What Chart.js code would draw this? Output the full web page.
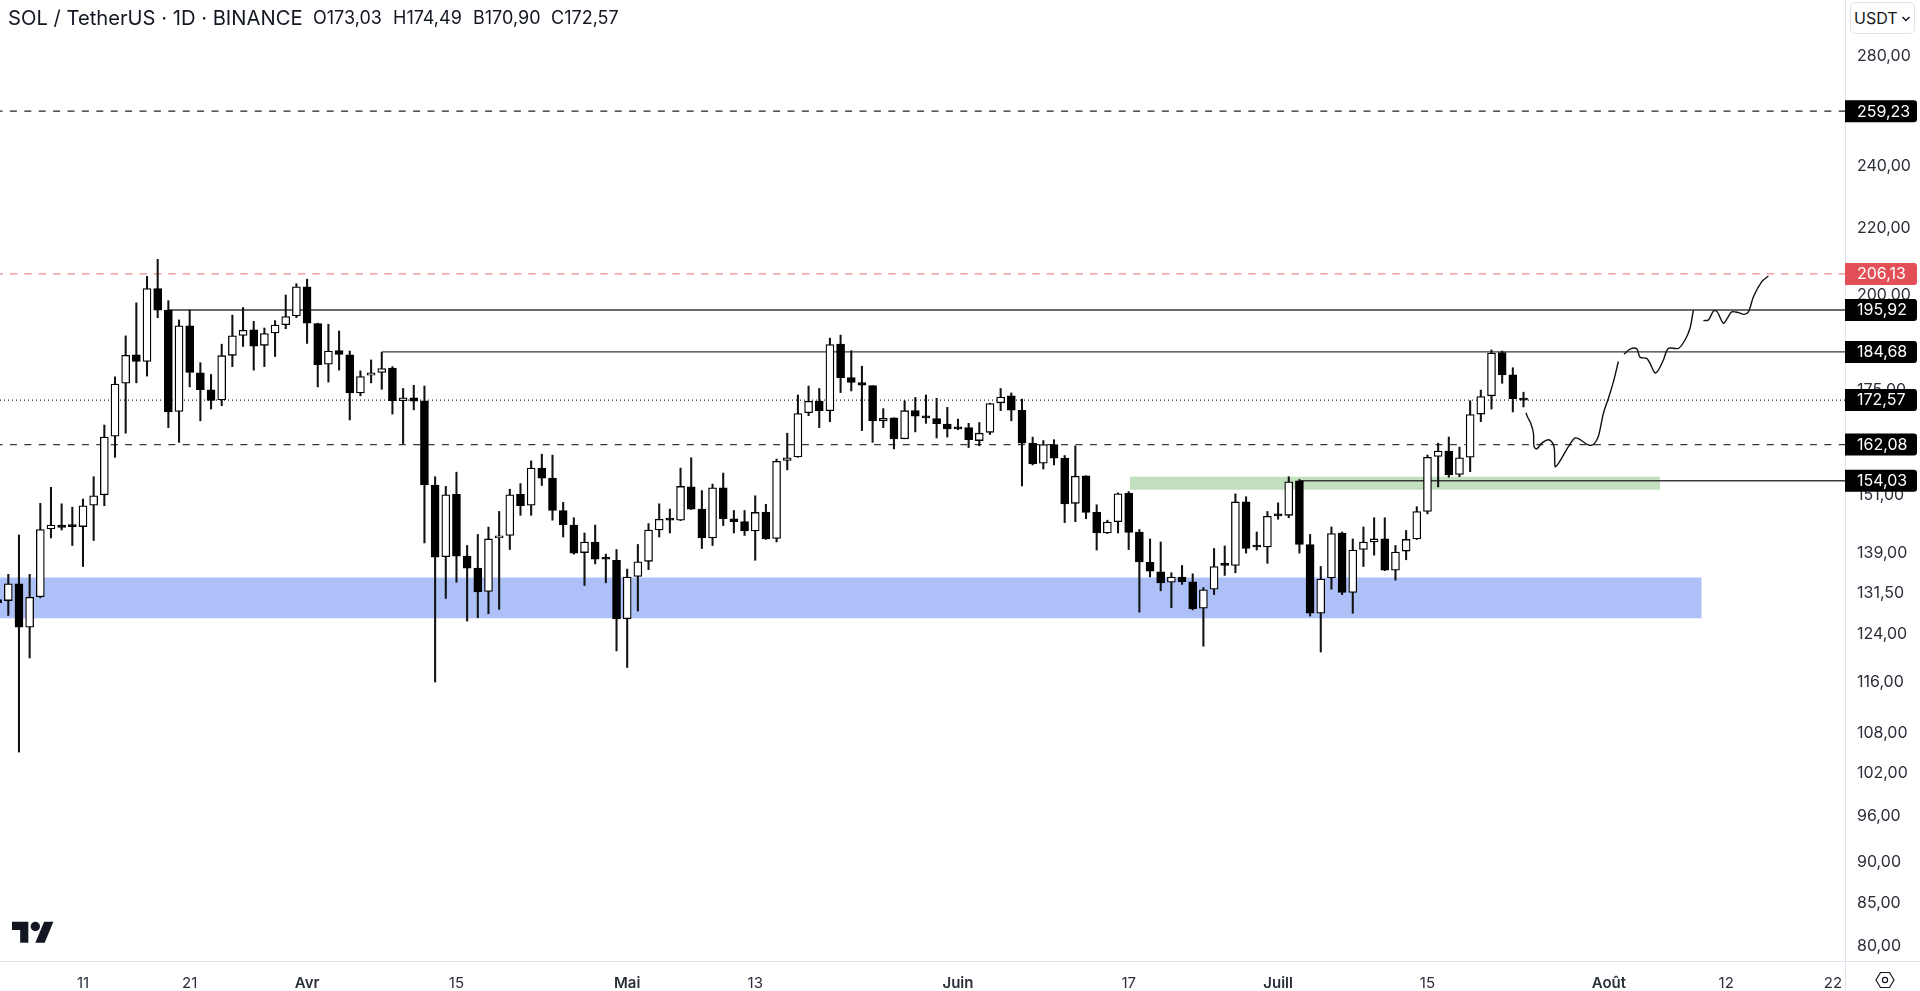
<!DOCTYPE html>
<html>
<head>
<meta charset="utf-8">
<title>SOL / TetherUS</title>
<script src="https://cdn.jsdelivr.net/npm/chart.js@4"></script>
<style>
  html, body { margin: 0; padding: 0; background: #fff; overflow: hidden; }
  body { width: 1920px; height: 991px; position: relative; font-family: Inter, "Noto Sans", sans-serif; color: #131722; }
  canvas { position: absolute; left: 0; top: 0; }
  .head { position: absolute; top: 7px; white-space: nowrap; line-height: 22px; }
  .title { font-size: 20.2px; left: 8px; }
  .ohlc { font-size: 18px; top: 7px; }
  #unit { position: absolute; left: 1850px; top: 2px; width: 65px; height: 32px; box-sizing: border-box; border: 1px solid #e0e3eb; border-radius: 5px; font-size: 16px; line-height: 30px; padding-left: 3px; background: #fff; }
  #unit svg { position: absolute; right: 3px; top: 12px; }
  #logo { position: absolute; left: 12px; top: 917px; }
  #gear { position: absolute; left: 1875px; top: 971px; }
</style>
</head>
<body>
<canvas id="solChart" width="1920" height="991"></canvas>
<div class="head title">SOL / TetherUS · 1D · BINANCE</div>
<div class="head ohlc" style="left:313px">O173,03</div>
<div class="head ohlc" style="left:393px">H174,49</div>
<div class="head ohlc" style="left:473px">B170,90</div>
<div class="head ohlc" style="left:551px">C172,57</div>
<div id="unit">USDT<svg width="10" height="8" viewBox="0 0 10 8"><path d="M1.5 2 L5 5.5 L8.5 2" fill="none" stroke="#131722" stroke-width="1.5"/></svg></div>
<svg id="logo" width="42" height="33" viewBox="0 0 36 28" fill="#131722"><path d="M14 22H7V11H0V4h14v18zM28 22h-8l7.5-18h8L28 22z"/><circle cx="20" cy="8" r="4"/></svg>
<svg id="gear" width="20" height="18" viewBox="0 0 20 18" fill="none" stroke="#131722" stroke-width="1.2"><path d="M5.5 1.5h9L19 9l-4.5 7.5h-9L1 9z"/><circle cx="10" cy="9" r="2.6"/></svg>
<script>
// Daily candles, the first one is 3 March. x axis = days after 4 March
const opens = [
  130.3,130.1,133.2,125.3,130.8,143.9,144.7,144.5,144.4,148.8,
  151.0,164.0,176.7,183.9,182.2,201.9,195.9,169.8,191.6,179.3,
  175.1,172.6,183.8,189.0,190.5,186.4,189.7,191.9,194.3,202.4,
  192.2,181.5,185.0,183.9,174.3,178.7,179.4,180.5,172.4,173.1,
  172.4,153.1,138.4,151.1,138.5,136.2,131.8,142.1,142.6,151.1,
  148.8,156.8,154.6,147.7,144.7,139.2,141.3,138.1,137.7,126.8,
  134.6,137.5,143.7,145.9,145.7,152.7,148.0,142.1,152.5,146.0,
  145.4,143.5,147.4,142.0,158.5,159.3,169.5,172.3,170.0,186.7,
  178.1,176.9,176.1,167.6,168.3,163.4,170.0,168.6,168.1,166.8,
  166.0,166.0,163.0,164.9,171.9,173.6,170.1,162.4,157.9,162.1,
  159.0,149.2,155.1,147.3,143.1,145.4,151.3,143.3,137.3,135.5,
  133.5,134.5,133.6,128.7,132.2,136.9,136.7,149.5,140.5,140.3,
  146.8,146.7,154.0,140.8,127.8,134.3,143.1,131.6,139.8,141.3,
  141.9,135.8,139.5,141.9,147.5,159.4,160.6,155.4,159.2,169.2,
  173.6,184.5,178.8,173.03
];
const highs = [
  130.7,135.0,142.7,135.0,149.2,152.6,149.1,148.4,150.1,154.9,
  166.6,178.3,188.9,197.9,205.4,210.4,198.5,193.2,195.9,181.9,
  178.9,186.7,194.5,196.6,192.8,191.0,193.0,200.1,203.3,204.6,
  192.3,192.0,190.2,184.9,179.8,182.6,184.6,180.9,175.4,176.2,
  176.0,154.9,152.8,155.9,140.6,142.8,144.3,147.5,152.2,153.4,
  158.4,159.9,159.7,149.4,146.2,143.1,144.7,138.9,139.8,136.0,
  140.8,145.0,149.1,148.0,156.8,159.1,151.9,153.3,155.7,147.7,
  147.7,150.8,149.0,158.8,164.7,173.8,176.0,175.4,188.3,189.1,
  185.0,181.0,176.1,170.5,168.3,172.4,173.2,173.8,173.0,170.8,
  168.0,167.0,167.2,171.8,175.4,174.3,172.8,163.8,163.0,163.2,
  159.6,161.8,155.1,148.9,145.7,151.4,151.7,143.8,141.9,141.3,
  135.3,136.7,135.1,132.5,140.0,140.5,151.2,150.6,143.3,147.5,
  149.3,154.9,154.3,142.8,136.5,144.3,143.3,141.9,144.3,146.2,
  146.2,140.6,143.6,148.5,159.7,162.4,163.8,161.5,172.4,175.0,
  185.2,184.9,180.6,174.49
];
const lows = [
  129.4,127.4,105.1,120.0,130.6,142.1,143.7,140.6,136.5,141.6,
  148.7,159.2,164.7,176.8,178.5,193.8,166.0,162.6,175.8,167.6,
  170.4,171.2,180.9,186.1,180.0,180.9,183.5,190.8,193.8,186.9,
  175.8,177.0,180.0,167.8,173.6,176.8,175.2,169.2,162.3,170.2,
  141.1,116.0,130.5,133.5,126.4,127.0,127.7,128.5,139.8,146.7,
  146.7,153.0,145.7,142.3,138.9,132.9,137.0,133.4,121.2,118.4,
  128.2,135.9,142.3,143.1,145.6,147.9,140.0,140.6,144.6,143.1,
  142.6,137.7,141.8,141.3,156.4,159.2,168.8,166.0,167.4,174.4,
  174.8,165.3,162.6,166.0,161.1,163.4,165.0,167.0,163.6,163.8,
  165.5,161.4,161.8,164.4,170.0,167.6,152.9,157.5,156.6,157.5,
  145.2,145.4,146.0,139.7,143.0,143.1,139.8,128.0,134.5,131.9,
  128.8,133.1,128.4,122.0,131.2,134.8,135.3,139.1,139.7,137.1,
  145.9,146.2,139.1,127.3,121.0,132.2,131.2,127.8,136.5,138.7,
  135.7,133.9,137.8,141.8,147.0,152.7,154.8,154.9,156.0,167.4,
  170.4,176.7,169.7,170.90
];
const closes = [
  129.7,133.2,125.3,130.7,143.8,144.7,144.2,144.4,148.7,150.8,
  163.8,176.5,183.8,182.2,201.9,195.9,169.7,191.6,179.4,175.1,
  172.5,183.7,188.9,190.4,186.2,189.5,191.8,194.1,202.4,192.3,
  181.4,184.9,184.0,174.3,178.4,179.3,180.4,172.4,173.1,172.3,
  153.1,138.3,151.0,138.5,136.2,131.7,141.9,142.5,151.0,148.7,
  156.8,154.6,147.7,144.8,139.1,141.3,137.9,137.9,126.8,134.5,
  137.4,143.7,145.9,145.7,152.8,148.0,142.1,152.5,146.0,145.4,
  143.5,147.3,141.9,158.3,159.1,169.3,172.3,170.0,186.6,178.1,
  176.9,176.2,167.6,168.2,163.4,170.0,168.7,168.3,166.9,165.7,
  165.7,163.2,164.7,171.7,173.3,170.1,162.4,157.7,162.1,159.0,
  149.1,155.0,147.3,143.1,145.3,151.2,143.2,137.4,135.6,133.4,
  134.5,133.6,128.6,132.1,136.5,136.7,149.5,140.0,140.3,146.5,
  146.6,153.8,140.8,127.8,134.1,143.0,131.6,139.7,141.3,141.9,
  135.8,139.3,141.8,147.5,159.2,160.6,155.3,159.1,169.1,173.4,
  184.4,178.8,172.9,172.57
];

// Price levels: value, first day of the line
const levelPrices = [259.23, 206.13, 195.92, 184.68, 172.57, 162.08, 154.03];
const levelStarts = [null, null, 15, 35, null, null, 121];

// Zones: low, high, first day, last day
const blueZone = [126.9, 134.4, null, 158.7];
const greenZone = [152.06, 154.9, 105.1, 154.8];

// Hand drawn projection, three strokes
const stroke1Days = [142.24,142.36,142.68,142.93,142.99,143.24,143.71,144.33,144.74,144.9,144.96,145.18,145.58,146.21,146.83,147.3,148.08,148.55,149.02,149.49,149.96,150.43,150.89];
const stroke1Prices = [169.5,168.6,167.0,164.7,161.6,161.1,162.4,163.2,162.4,160.9,157.1,157.5,159.0,161.6,163.6,163.2,162.0,162.1,164.0,169.4,173.0,177.1,182.2];
const stroke2Days = [151.42,151.99,152.61,152.92,153.55,153.86,154.33,154.64,155.11,155.58,156.52,157.14,157.61,157.92];
const stroke2Prices = [184.1,185.4,185.5,183.3,183.0,181.7,179.3,180.0,182.6,185.6,185.6,187.8,191.0,195.9];
const stroke3Days = [158.86,159.33,159.8,160.11,160.73,161.05,161.52,162.14,162.67,163.08,163.55,164.33,164.95];
const stroke3Prices = [193.0,193.2,195.6,195.6,192.3,193.4,195.4,195.2,194.7,195.4,199.6,203.9,205.5];

// Axes
const priceTicks = [280, 240, 220, 200, 175, 151, 139, 131.5, 124, 116, 108, 102, 96, 90, 85, 80];
const dayTicks = [7, 17, 28, 42, 58, 70, 89, 105, 119, 133, 150, 161, 171];
const dayLabels = ['11', '21', 'Avr', '15', 'Mai', '13', 'Juin', '17', 'Juill', '15', 'Août', '12', '22'];
const months = ['Avr', 'Mai', 'Juin', 'Juill', 'Août'];

const xMin = -0.778, xMax = 172.13;
const yMin = 78.3, yMax = 303.2;

const fmt = (v) => v.toFixed(2).replace('.', ',');
const days = opens.map((_, i) => i - 1);
const isUp = (i) => closes[i] > opens[i];

const hLine = (price, start, color, dash, width) => ({
  type: 'line',
  data: [{ x: start === null ? xMin : start, y: price }, { x: xMax, y: price }],
  borderColor: color,
  borderWidth: width,
  borderDash: dash,
  borderDashOffset: dash.length && dash[0] > 1 ? 4.5 : 0,
  pointRadius: 0,
  order: 5,
});

const levelStyles = [
  ['#222', [7, 7.4], 1.2],
  ['#f0888c', [7.5, 6.9], 1.4],
  ['#3a3a3a', [], 1.4],
  ['#3a3a3a', [], 1.4],
  ['#222', [1, 3], 1.2],
  ['#3a3a3a', [7, 7.4], 1.3],
  ['#3a3a3a', [], 1.4],
];

const zone = (z, color) => {
  const a = z[2] === null ? xMin : z[2];
  return [
    { type: 'line', data: [{ x: a, y: z[1] }, { x: z[3], y: z[1] }], borderWidth: 0, pointRadius: 0, backgroundColor: color, fill: '+1', order: 10 },
    { type: 'line', data: [{ x: a, y: z[0] }, { x: z[3], y: z[0] }], borderWidth: 0, pointRadius: 0, order: 10 },
  ];
};

const stroke = (xs, ys) => ({
  type: 'line',
  data: xs.map((x, i) => ({ x, y: ys[i] })),
  borderColor: '#111',
  borderWidth: 1.4,
  pointRadius: 0,
  tension: 0.3,
  order: 0,
});

// Price tags on the axis and the pane borders
const tagsPlugin = {
  id: 'tags',
  afterDraw(chart) {
    const { ctx, chartArea, scales } = chart;
    ctx.save();
    ctx.strokeStyle = '#e0e3eb';
    ctx.lineWidth = 1;
    ctx.beginPath();
    ctx.moveTo(chartArea.right + 0.5, 0);
    ctx.lineTo(chartArea.right + 0.5, chart.height);
    ctx.moveTo(0, chartArea.bottom + 0.5);
    ctx.lineTo(chart.width, chartArea.bottom + 0.5);
    ctx.stroke();
    ctx.font = '16px Inter';
    ctx.textBaseline = 'middle';
    ctx.textAlign = 'left';
    levelPrices.forEach((p, i) => {
      const y = scales.y.getPixelForValue(p);
      ctx.fillStyle = i === 1 ? '#e34f57' : '#000';
      ctx.beginPath();
      ctx.roundRect(chartArea.right, y - 11, 72, 22, [0, 3, 3, 0]);
      ctx.fill();
      ctx.fillStyle = '#fff';
      ctx.fillText(fmt(p), chartArea.right + 12, y + 0.5);
    });
    ctx.restore();
  },
};

const solChart = new Chart(document.getElementById('solChart'), {
  type: 'bar',
  data: {
    datasets: [
      ...zone(blueZone, '#aec0f8'),
      ...zone(greenZone, '#c2dfc0'),
      ...levelPrices.map((p, i) => hLine(p, levelStarts[i], ...levelStyles[i])),
      {
        // wicks
        data: days.map((d, i) => ({ x: d, y: [lows[i], highs[i]] })),
        backgroundColor: '#111',
        barThickness: 1.4,
        grouped: false,
        order: 2,
      },
      {
        // bodies
        data: days.map((d, i) => ({ x: d, y: [Math.min(opens[i], closes[i]), Math.max(opens[i], closes[i])] })),
        backgroundColor: (c) => (isUp(c.dataIndex) ? '#fff' : '#000'),
        borderColor: '#000',
        borderWidth: 1.3,
        borderSkipped: false,
        barThickness: 8,
        minBarLength: 2,
        grouped: false,
        order: 1,
      },
      stroke(stroke1Days, stroke1Prices),
      stroke(stroke2Days, stroke2Prices),
      stroke(stroke3Days, stroke3Prices),
    ],
  },
  options: {
    responsive: false,
    animation: false,
    layout: { padding: 0 },
    plugins: { legend: { display: false }, tooltip: { enabled: false }, title: { display: false } },
    scales: {
      x: {
        type: 'linear',
        offset: false,
        min: xMin,
        max: xMax,
        grid: { display: false },
        border: { display: false },
        afterBuildTicks: (s) => { s.ticks = dayTicks.map((v) => ({ value: v })); },
        afterFit: (s) => { s.height = 30; s.paddingLeft = 0; s.paddingRight = 0; },
        ticks: {
          autoSkip: false,
          maxRotation: 0,
          padding: 5,
          color: '#2a2e39',
          font: (c) => {
            const label = dayLabels[dayTicks.indexOf(c.tick ? c.tick.value : -1)];
            return { family: 'Inter', size: 15, weight: months.includes(label) ? '600' : '400' };
          },
          callback: (v) => dayLabels[dayTicks.indexOf(v)],
        },
      },
      y: {
        type: 'logarithmic',
        position: 'right',
        min: yMin,
        max: yMax,
        grid: { display: false },
        border: { display: false },
        afterBuildTicks: (s) => { s.ticks = priceTicks.map((v) => ({ value: v })); },
        afterFit: (s) => { s.width = 75; s.paddingTop = 0; s.paddingBottom = 0; },
        ticks: {
          autoSkip: false,
          padding: 4,
          color: '#2a2e39',
          font: { family: 'Inter', size: 16 },
          callback: (v) => fmt(v),
        },
      },
    },
  },
  plugins: [tagsPlugin],
});
</script>
</body>
</html>
